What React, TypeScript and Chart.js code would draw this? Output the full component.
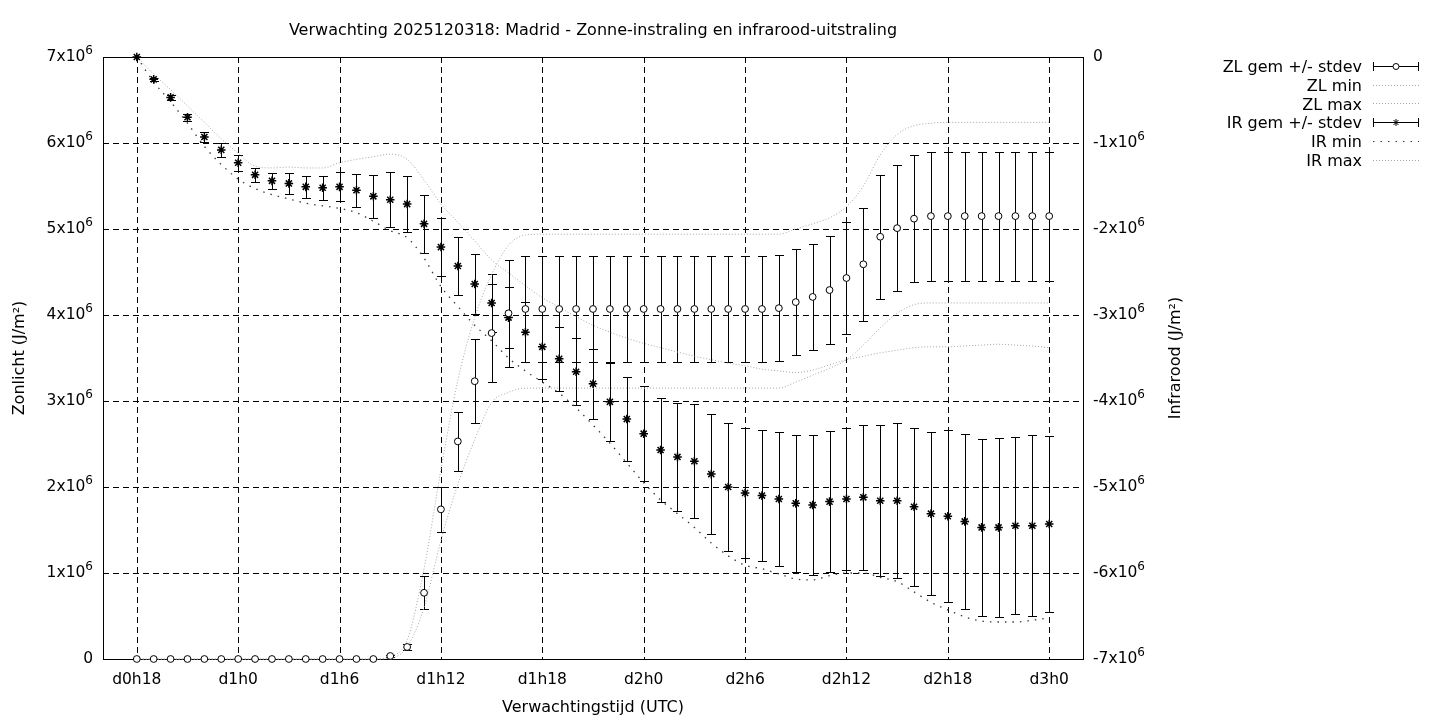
import React, { useEffect, useRef } from 'react';
import { Chart, registerables } from 'chart.js';

Chart.register(...registerables);

// Forecast hours (hours since d0h0)
const HOURS = [18, 19, 20, 21, 22, 23, 24, 25, 26, 27, 28, 29, 30, 31, 32, 33, 34, 35, 36, 37, 38, 39, 40, 41, 42, 43, 44, 45, 46, 47, 48, 49, 50, 51, 52, 53, 54, 55, 56, 57, 58, 59, 60, 61, 62, 63, 64, 65, 66, 67, 68, 69, 70, 71, 72];

const X_TICK_HOURS = [18, 24, 30, 36, 42, 48, 54, 60, 66, 72];
const X_TICK_LABELS = ['d0h18', 'd1h0', 'd1h6', 'd1h12', 'd1h18', 'd2h0', 'd2h6', 'd2h12', 'd2h18', 'd3h0'];
const ZL_TICKS = [0, 1, 2, 3, 4, 5, 6, 7];
const IR_TICKS = [-7, -6, -5, -4, -3, -2, -1, 0];

// Values in units of 10^6 J/m2
const ZL_MEAN = [0, 0, 0, 0, 0, 0, 0, 0, 0, 0, 0, 0, 0, 0, 0, 0.035, 0.14, 0.77, 1.74, 2.53, 3.23, 3.79, 4.02, 4.07, 4.07, 4.07, 4.07, 4.07, 4.07, 4.07, 4.07, 4.07, 4.07, 4.07, 4.07, 4.07, 4.07, 4.07, 4.08, 4.15, 4.21, 4.29, 4.43, 4.59, 4.91, 5.01, 5.12, 5.15, 5.15, 5.15, 5.15, 5.15, 5.15, 5.15, 5.15];
const ZL_STD = [0, 0, 0, 0, 0, 0, 0, 0, 0, 0, 0, 0, 0, 0, 0, 0.01, 0.04, 0.19, 0.26, 0.34, 0.49, 0.57, 0.62, 0.62, 0.62, 0.62, 0.62, 0.62, 0.62, 0.62, 0.62, 0.62, 0.62, 0.62, 0.62, 0.62, 0.62, 0.62, 0.62, 0.62, 0.62, 0.63, 0.65, 0.66, 0.72, 0.73, 0.74, 0.75, 0.75, 0.75, 0.75, 0.75, 0.75, 0.75, 0.75];
const ZL_MIN = [0, 0, 0, 0, 0, 0, 0, 0, 0, 0, 0, 0, 0, 0, 0, 0.01, 0.14, 0.6, 1.38, 2.03, 2.55, 2.98, 3.1, 3.15, 3.15, 3.15, 3.15, 3.15, 3.15, 3.15, 3.15, 3.15, 3.15, 3.15, 3.15, 3.15, 3.15, 3.15, 3.15, 3.22, 3.3, 3.38, 3.48, 3.65, 3.85, 4.02, 4.12, 4.14, 4.14, 4.14, 4.14, 4.14, 4.14, 4.14, 4.14];
const ZL_MAX = [0, 0, 0, 0, 0, 0, 0, 0, 0, 0, 0, 0, 0, 0, 0, 0.03, 0.22, 1.05, 2.2, 3.24, 3.97, 4.47, 4.81, 4.93, 4.94, 4.94, 4.94, 4.94, 4.94, 4.94, 4.94, 4.94, 4.94, 4.94, 4.94, 4.94, 4.94, 4.94, 4.94, 5.0, 5.06, 5.13, 5.26, 5.5, 5.86, 6.1, 6.2, 6.23, 6.24, 6.24, 6.24, 6.24, 6.24, 6.24, 6.24];

const IR_MEAN = [0, -0.26, -0.47, -0.7, -0.93, -1.08, -1.23, -1.37, -1.44, -1.47, -1.51, -1.52, -1.51, -1.55, -1.62, -1.66, -1.71, -1.94, -2.21, -2.43, -2.64, -2.86, -3.03, -3.2, -3.37, -3.51, -3.66, -3.8, -4.01, -4.21, -4.38, -4.57, -4.65, -4.7, -4.85, -5.0, -5.07, -5.1, -5.14, -5.19, -5.21, -5.17, -5.14, -5.12, -5.16, -5.16, -5.23, -5.31, -5.34, -5.4, -5.47, -5.47, -5.45, -5.45, -5.43];
const IR_STD = [0, 0.02, 0.03, 0.04, 0.06, 0.08, 0.09, 0.08, 0.09, 0.12, 0.13, 0.14, 0.17, 0.19, 0.25, 0.32, 0.33, 0.34, 0.34, 0.34, 0.35, 0.34, 0.35, 0.35, 0.37, 0.37, 0.39, 0.41, 0.45, 0.49, 0.55, 0.6, 0.63, 0.66, 0.7, 0.74, 0.76, 0.76, 0.78, 0.8, 0.81, 0.82, 0.83, 0.84, 0.88, 0.9, 0.92, 0.95, 1.0, 1.02, 1.03, 1.04, 1.03, 1.05, 1.02];
const IR_MIN = [0, -0.29, -0.52, -0.77, -1.04, -1.25, -1.42, -1.53, -1.6, -1.65, -1.7, -1.73, -1.76, -1.81, -1.91, -2.02, -2.1, -2.34, -2.67, -2.9, -3.12, -3.3, -3.5, -3.65, -3.78, -3.91, -4.08, -4.28, -4.49, -4.72, -4.95, -5.15, -5.31, -5.47, -5.65, -5.8, -5.91, -5.95, -6.01, -6.07, -6.08, -6.03, -6.0, -6.0, -6.05, -6.1, -6.22, -6.34, -6.43, -6.51, -6.56, -6.57, -6.57, -6.55, -6.52];
const IR_MAX = [0, -0.2, -0.38, -0.57, -0.76, -0.95, -1.12, -1.27, -1.29, -1.28, -1.29, -1.29, -1.23, -1.19, -1.16, -1.13, -1.19, -1.43, -1.71, -1.92, -2.14, -2.36, -2.51, -2.66, -2.8, -2.91, -3.02, -3.12, -3.2, -3.27, -3.33, -3.38, -3.43, -3.48, -3.52, -3.56, -3.59, -3.63, -3.65, -3.67, -3.64, -3.58, -3.52, -3.48, -3.44, -3.41, -3.38, -3.37, -3.37, -3.36, -3.35, -3.34, -3.35, -3.36, -3.38];

const TITLE = 'Verwachting 2025120318: Madrid - Zonne-instraling en infrarood-uitstraling';
const X_TITLE = 'Verwachtingstijd (UTC)';
const Y_TITLE = 'Zonlicht (J/m\u00b2)';
const Y2_TITLE = 'Infrarood (J/m\u00b2)';
const LEGEND_LABELS = ['ZL gem +/- stdev', 'ZL min', 'ZL max', 'IR gem +/- stdev', 'IR min', 'IR max'];
const EXP_LABEL = '6';

const FONT = "'DejaVu Sans', sans-serif";
const LIGHT = '#a6a6a6';
const DARK = '#3c3c3c';
const LIGHT_DASH = [1, 2];
const DARK_DASH = [1.5, 6];

const toXY = (vals: number[]) => HOURS.map((h, i) => ({ x: h, y: vals[i] }));

function drawStar(ctx: CanvasRenderingContext2D, x: number, y: number, r: number) {
  const d = r * 0.7071;
  ctx.beginPath();
  ctx.moveTo(x - r, y); ctx.lineTo(x + r, y);
  ctx.moveTo(x, y - r); ctx.lineTo(x, y + r);
  ctx.moveTo(x - d, y - d); ctx.lineTo(x + d, y + d);
  ctx.moveTo(x - d, y + d); ctx.lineTo(x + d, y - d);
  ctx.stroke();
}

function drawCircle(ctx: CanvasRenderingContext2D, x: number, y: number, r: number) {
  ctx.beginPath();
  ctx.arc(x, y, r, 0, Math.PI * 2);
  ctx.fillStyle = '#fff';
  ctx.fill();
  ctx.stroke();
}

// draws "Nx10^6" with a raised exponent; align 'right' (anchor = right end) or 'left'
function drawPowerLabel(ctx: CanvasRenderingContext2D, v: number, x: number, y: number, align: 'left' | 'right') {
  ctx.textBaseline = 'middle';
  ctx.fillStyle = '#000';
  if (v === 0) {
    ctx.font = `15.5px ${FONT}`;
    ctx.textAlign = align;
    ctx.fillText('0', x, y);
    return;
  }
  const main = `${v}x10`;
  ctx.font = `15.5px ${FONT}`;
  const wm = ctx.measureText(main).width;
  ctx.font = `12px ${FONT}`;
  const we = ctx.measureText(EXP_LABEL).width;
  const start = align === 'right' ? x - wm - we : x;
  ctx.textAlign = 'left';
  ctx.font = `15.5px ${FONT}`;
  ctx.fillText(main, start, y);
  ctx.font = `12px ${FONT}`;
  ctx.fillText(EXP_LABEL, start + wm, y - 6);
}

const framePlugin = {
  id: 'gnuplotFrame',
  beforeDatasetsDraw(chart: any) {
    const { ctx, chartArea: a, scales } = chart;
    ctx.save();
    ctx.strokeStyle = '#000';
    ctx.lineWidth = 1;
    ctx.setLineDash([6, 4]);
    X_TICK_HOURS.forEach((h) => {
      const px = Math.round(scales.x.getPixelForValue(h)) + 0.5;
      ctx.beginPath(); ctx.moveTo(px, a.top); ctx.lineTo(px, a.bottom); ctx.stroke();
    });
    ZL_TICKS.forEach((v) => {
      const py = Math.round(scales.y.getPixelForValue(v)) + 0.5;
      ctx.beginPath(); ctx.moveTo(a.left, py); ctx.lineTo(a.right, py); ctx.stroke();
    });
    ctx.setLineDash([]);
    ctx.strokeRect(Math.round(a.left) + 0.5, Math.round(a.top) + 0.5, Math.round(a.right - a.left), Math.round(a.bottom - a.top));

    // error bars
    const bars = (mean: number[], std: number[], scale: any) => {
      HOURS.forEach((h, i) => {
        if (!std[i]) return;
        const px = Math.round(scales.x.getPixelForValue(h)) + 0.5;
        const y1 = Math.round(scale.getPixelForValue(mean[i] + std[i])) + 0.5;
        const y2 = Math.round(scale.getPixelForValue(mean[i] - std[i])) + 0.5;
        ctx.beginPath();
        ctx.moveTo(px, y1); ctx.lineTo(px, y2);
        ctx.moveTo(px - 4.5, y1); ctx.lineTo(px + 4.5, y1);
        ctx.moveTo(px - 4.5, y2); ctx.lineTo(px + 4.5, y2);
        ctx.stroke();
      });
    };
    bars(ZL_MEAN, ZL_STD, scales.y);
    bars(IR_MEAN, IR_STD, scales.y2);
    ctx.restore();
  },
  afterDraw(chart: any) {
    const { ctx, chartArea: a, scales } = chart;
    ctx.save();

    // y tick labels with superscript exponent, placed by the scales
    ZL_TICKS.forEach((v) => drawPowerLabel(ctx, v, a.left - 10, scales.y.getPixelForValue(v), 'right'));
    IR_TICKS.forEach((v) => drawPowerLabel(ctx, v, a.right + 10, scales.y2.getPixelForValue(v), 'left'));

    ctx.fillStyle = '#000';
    ctx.strokeStyle = '#000';
    ctx.font = `16px ${FONT}`;
    const cx = (a.left + a.right) / 2;
    const cy = (a.top + a.bottom) / 2;
    ctx.textAlign = 'center';
    ctx.textBaseline = 'middle';
    ctx.fillText(TITLE, cx, 31);
    ctx.fillText(X_TITLE, cx, 708);

    ctx.save();
    ctx.translate(20, cy);
    ctx.rotate(-Math.PI / 2);
    ctx.fillText(Y_TITLE, 0, 0);
    ctx.restore();
    ctx.save();
    ctx.translate(1176, cy);
    ctx.rotate(-Math.PI / 2);
    ctx.fillText(Y2_TITLE, 0, 0);
    ctx.restore();

    // legend
    const tx = 1362;
    const x0 = 1373;
    const x1 = 1419;
    LEGEND_LABELS.forEach((label, i) => {
      const y = 66 + i * 18.7;
      ctx.textAlign = 'right';
      ctx.fillStyle = '#000';
      ctx.font = `16px ${FONT}`;
      ctx.fillText(label, tx, y + 2);
      const ly = Math.round(y) + 0.5;
      ctx.lineWidth = 1;
      if (i === 0 || i === 3) {
        ctx.setLineDash([]);
        ctx.strokeStyle = '#000';
        ctx.beginPath();
        ctx.moveTo(x0, ly); ctx.lineTo(x1, ly);
        ctx.moveTo(x0 + 0.5, ly - 4.5); ctx.lineTo(x0 + 0.5, ly + 4.5);
        ctx.moveTo(x1 - 0.5, ly - 4.5); ctx.lineTo(x1 - 0.5, ly + 4.5);
        ctx.stroke();
        const mx = (x0 + x1) / 2;
        if (i === 0) drawCircle(ctx, mx, ly, 3); else drawStar(ctx, mx, ly, 3.5);
      } else {
        const dark = i === 4;
        ctx.strokeStyle = dark ? DARK : LIGHT;
        ctx.setLineDash(dark ? DARK_DASH : LIGHT_DASH);
        ctx.beginPath();
        ctx.moveTo(x0, ly); ctx.lineTo(x1, ly);
        ctx.stroke();
      }
    });
    ctx.restore();
  },
};

export default function App() {
  const ref = useRef<HTMLCanvasElement | null>(null);

  useEffect(() => {
    if (!ref.current) return;
    document.body.style.margin = '0';
    const lineDs = (label: string, vals: number[], axis: string, color: string, dash: number[], width: number) => ({
      type: 'line' as const,
      label,
      data: toXY(vals),
      yAxisID: axis,
      borderColor: color,
      borderWidth: width,
      borderDash: dash,
      pointRadius: 0,
      fill: false,
      cubicInterpolationMode: 'monotone' as const,
      showLine: true,
      clip: false as any,
    });
    const chart = new Chart(ref.current, {
      type: 'line',
      data: {
        datasets: [
          {
            label: 'ZL gem +/- stdev',
            data: toXY(ZL_MEAN),
            yAxisID: 'y',
            showLine: false,
            pointStyle: 'circle',
            pointRadius: 3.4,
            pointBackgroundColor: '#fff',
            pointBorderColor: '#000',
            pointBorderWidth: 1,
            clip: false as any,
          },
          {
            label: 'IR gem +/- stdev',
            data: toXY(IR_MEAN),
            yAxisID: 'y2',
            showLine: false,
            pointStyle: 'star',
            pointRadius: 4.3,
            pointBackgroundColor: '#000',
            pointBorderColor: '#000',
            pointBorderWidth: 1.5,
            clip: false as any,
          },
          lineDs('ZL min', ZL_MIN, 'y', LIGHT, LIGHT_DASH, 1),
          lineDs('ZL max', ZL_MAX, 'y', LIGHT, LIGHT_DASH, 1),
          lineDs('IR min', IR_MIN, 'y2', DARK, DARK_DASH, 1.3),
          lineDs('IR max', IR_MAX, 'y2', LIGHT, LIGHT_DASH, 1),
        ] as any,
      },
      options: {
        responsive: false,
        maintainAspectRatio: false,
        animation: false,
        events: [],
        layout: { padding: { top: 57, left: 0, right: 0, bottom: 0 } },
        plugins: {
          legend: { display: false },
          title: { display: false },
          tooltip: { enabled: false },
        },
        scales: {
          x: {
            type: 'linear',
            min: 16,
            max: 74,
            afterBuildTicks: (s: any) => { s.ticks = X_TICK_HOURS.map((v) => ({ value: v })); },
            afterFit: (s: any) => { s.height = 61; },
            grid: { display: false, drawTicks: false },
            border: { display: false },
            ticks: {
              autoSkip: false,
              maxRotation: 0,
              padding: 12,
              color: '#000',
              font: { family: FONT, size: 15.5 },
              callback: (v: any) => {
                const idx = X_TICK_HOURS.indexOf(Number(v));
                return idx >= 0 ? X_TICK_LABELS[idx] : '';
              },
            },
          },
          y: {
            type: 'linear',
            position: 'left',
            min: 0,
            max: 7,
            afterBuildTicks: (s: any) => { s.ticks = ZL_TICKS.map((v) => ({ value: v })); },
            afterFit: (s: any) => { s.width = 103; },
            grid: { display: false, drawTicks: false },
            border: { display: false },
            ticks: { display: false },
          },
          y2: {
            type: 'linear',
            position: 'right',
            min: -7,
            max: 0,
            afterBuildTicks: (s: any) => { s.ticks = IR_TICKS.map((v) => ({ value: v })); },
            afterFit: (s: any) => { s.width = 357; },
            grid: { display: false, drawTicks: false },
            border: { display: false },
            ticks: { display: false },
          },
        },
      } as any,
      plugins: [framePlugin],
    });
    return () => chart.destroy();
  }, []);

  return (
    <div style={{ position: 'fixed', left: 0, top: 0, width: 1440, height: 720, background: '#fff' }}>
      <canvas ref={ref} width={1440} height={720} style={{ display: 'block' }} />
    </div>
  );
}
